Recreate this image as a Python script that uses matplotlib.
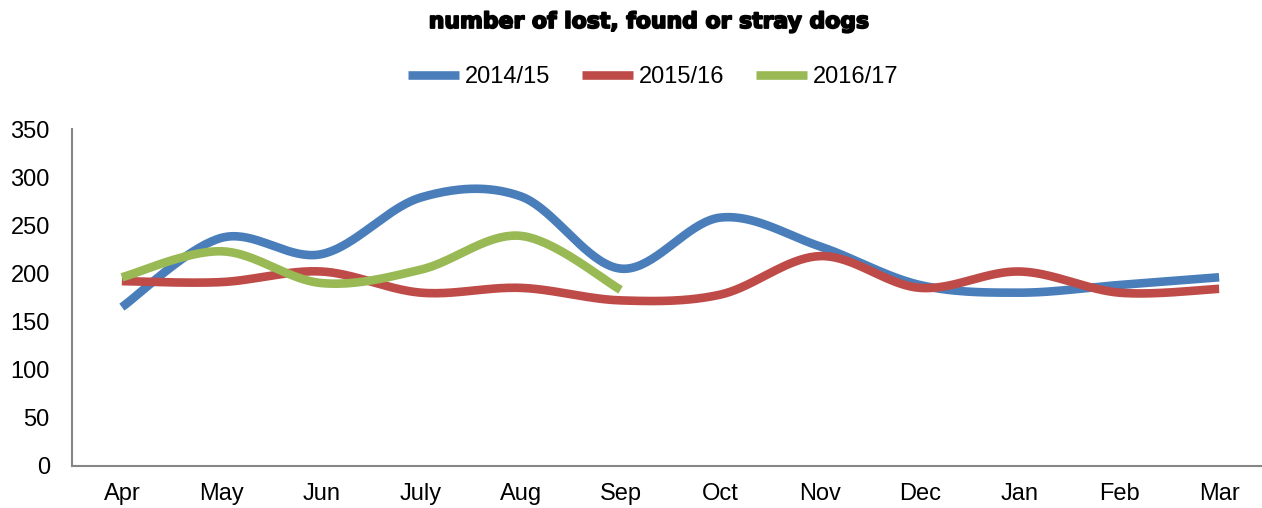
import numpy as np
import matplotlib
matplotlib.use("Agg")
import matplotlib.pyplot as plt
import matplotlib.patheffects as pe

months = ["Apr", "May", "Jun", "July", "Aug", "Sep", "Oct", "Nov", "Dec", "Jan", "Feb", "Mar"]
s2014 = [165, 237, 220, 279, 280, 205, 258, 228, 188, 180, 188, 196]
s2015 = [192, 191, 202, 180, 185, 172, 178, 218, 185, 202, 180, 184]
s2016 = [196, 223, 190, 204, 239, 183]
series_names = ["2014/15", "2015/16", "2016/17"]
colors = ["#4A7EBB", "#BE4B48", "#98B954"]
yticks = [0, 50, 100, 150, 200, 250, 300, 350]


def smooth(xs, ys, n=40):
    """Excel-style smoothed line: cubic Bezier through each point."""
    P = np.column_stack([xs, ys]).astype(float)
    m = len(P)
    out = []
    for i in range(m - 1):
        p0 = P[i - 1] if i > 0 else P[i]
        p1 = P[i]
        p2 = P[i + 1]
        p3 = P[i + 2] if i + 2 < m else P[i + 1]
        c1 = p1 + (p2 - p0) / 6.0
        c2 = p2 - (p3 - p1) / 6.0
        t = np.linspace(0, 1, n)[:, None]
        seg = ((1 - t) ** 3) * p1 + 3 * ((1 - t) ** 2) * t * c1 + 3 * (1 - t) * t ** 2 * c2 + t ** 3 * p2
        out.append(seg if i == 0 else seg[1:])
    pts = np.vstack(out)
    return pts[:, 0], pts[:, 1]


plt.rcParams['font.family'] = ['Liberation Sans', 'DejaVu Sans']

fig = plt.figure(figsize=(12.62, 5.08), dpi=100)
ax = fig.add_axes([72 / 1262, 1 - 466 / 508, (1262 - 72) / 1262, (466 - 129) / 508])

lines = []
for name, vals, c in zip(series_names, [s2014, s2015, s2016], colors):
    x = np.arange(len(vals))
    sx, sy = smooth(x, vals)
    ln, = ax.plot(sx, sy, color=c, lw=6.2, solid_capstyle='butt', solid_joinstyle='round', label=name)
    lines.append(ln)

ax.set_xlim(-0.5, 11.43)
ax.set_ylim(0, 350)
ax.set_yticks(yticks)
ax.set_xticks(range(len(months)))
ax.set_xticklabels(months)
ax.tick_params(axis='both', length=0, labelsize=17, colors='black')
ax.tick_params(axis='y', pad=16)
ax.tick_params(axis='x', pad=12)
for s in ['top', 'right']:
    ax.spines[s].set_visible(False)
for s in ['left', 'bottom']:
    ax.spines[s].set_color('#868686')
    ax.spines[s].set_linewidth(1.5)

fig.text(650 / 1262, 1 - 22 / 508, "number of lost, found or stray dogs", ha='center', va='center',
         fontsize=15.8, fontweight='heavy', family=['DejaVu Sans'],
         path_effects=[pe.withStroke(linewidth=1.3, foreground='black')])

fig.legend(handles=lines, loc='center', bbox_to_anchor=(653 / 1262, 1 - 77 / 508), ncol=3,
           frameon=False, fontsize=17, handlelength=2.15, handletextpad=0.25, columnspacing=1.35)

fig.savefig("out.png", dpi=100)
